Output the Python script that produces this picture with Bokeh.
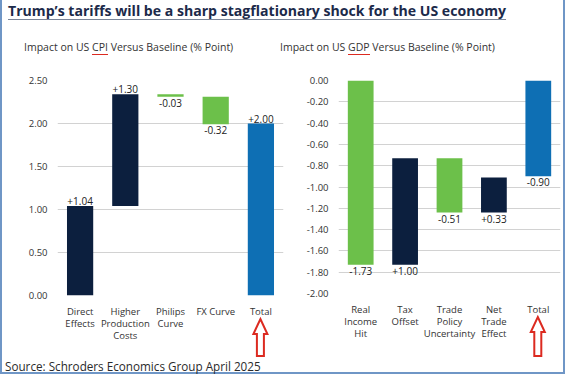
from bokeh.plotting import figure
from bokeh.models import (Range1d, FactorRange, ColumnDataSource, NumeralTickFormatter,
                          FixedTicker, Div)
from bokeh.layouts import column, row
from bokeh.embed import file_html
from bokeh.resources import INLINE
from bokeh.core.properties import value

# ---------------- data ----------------
TITLE = "Trump’s tariffs will be a sharp stagflationary shock for the US economy"
SOURCE = "Source: Schroders Economics Group April 2025"

cpi_categories = ["Direct\nEffects", "Higher\nProduction\nCosts", "Philips\nCurve", "FX Curve", "Total"]
cpi_changes = [1.04, 1.30, -0.03, -0.32]
cpi_total = 2.00
cpi_ticks = [0.0, 0.5, 1.0, 1.5, 2.0, 2.5]

gdp_categories = ["Real\nIncome\nHit", "Tax\nOffset", "Trade\nPolicy\nUncertainty", "Net\nTrade\nEffect", "Total"]
gdp_changes = [-1.73, 1.00, -0.51, 0.33]
gdp_total = -0.90
gdp_ticks = [0.0, -0.2, -0.4, -0.6, -0.8, -1.0, -1.2, -1.4, -1.6, -1.8, -2.0]

# ---------------- style ----------------
FONT = "Open Sans"
NAVY = "#0c1f3e"
GREEN = "#6cc04a"
BLUE = "#0e6fb4"
RED = "#dc2a20"
TXT = "#333333"

# frame geometry (px)
L_BL, L_FW, L_FH, L_BT, L_BR = 57, 226, 215, 26, 7
R_BL, R_FW, R_FH, R_BT, R_BR = 48, 222, 213, 28, 5


def waterfall(cats, changes, total, mode):
    bottoms, tops, colors, labels, ly, base = [], [], [], [], [], []
    level = 0.0
    for c in changes:
        start, end = level, level + c
        lo, hi = min(start, end), max(start, end)
        bottoms.append(lo)
        tops.append(hi)
        colors.append(NAVY if c > 0 else GREEN)
        labels.append(f"{c:+.2f}")
        if mode == "sign" and c > 0:
            ly.append(hi); base.append("bottom")
        else:
            ly.append(lo); base.append("top")
        level = end
    lo, hi = min(0.0, total), max(0.0, total)
    bottoms.append(lo)
    tops.append(hi)
    colors.append(BLUE)
    labels.append(f"{total:+.2f}")
    if mode == "sign" and total > 0:
        ly.append(hi); base.append("bottom")
    else:
        ly.append(lo); base.append("top")
    return ColumnDataSource(dict(x=cats, bottom=bottoms, top=tops, color=colors,
                                 label=labels, ly=ly, base=base,
                                 yoff=[-1 if b == "bottom" else 2 for b in base]))


def make_chart(cats, changes, total, yr, ticks, fw, fh, bl, bt, br, mode):
    src = waterfall(cats, changes, total, mode)
    p = figure(x_range=FactorRange(factors=cats), y_range=Range1d(*yr),
               frame_width=fw, frame_height=fh,
               min_border_left=bl, min_border_right=br, min_border_top=bt,
               min_border_bottom=63 + (28 - bt),
               output_backend="svg", toolbar_location=None, tools="")
    p.outline_line_color = None
    p.background_fill_color = None
    p.border_fill_color = None

    p.vbar(x="x", bottom="bottom", top="top", width=0.58, fill_color="color",
           line_color=None, source=src)
    p.text(x="x", y="ly", text="label", text_align="center", text_baseline="base",
           y_offset="yoff", text_font=value(FONT), text_font_size="10px",
           text_color="#222222", source=src)

    p.xgrid.visible = False
    p.ygrid.ticker = FixedTicker(ticks=ticks)
    p.ygrid.grid_line_color = "#d2d2d2"
    p.ygrid.grid_line_width = 1

    xa = p.xaxis[0]
    xa.axis_line_color = None
    xa.major_tick_line_color = None
    xa.major_tick_out = 0
    xa.major_label_standoff = 9
    xa.major_label_text_font = FONT
    xa.major_label_text_font_size = "9.5px"
    xa.major_label_text_color = TXT
    xa.major_label_text_line_height = 0.95

    ya = p.yaxis[0]
    ya.ticker = FixedTicker(ticks=ticks)
    ya.formatter = NumeralTickFormatter(format="0.00")
    ya.axis_line_color = None
    ya.major_tick_line_color = None
    ya.minor_tick_line_color = None
    ya.major_tick_out = 0
    ya.major_label_standoff = 10
    ya.major_label_text_font = FONT
    ya.major_label_text_font_size = "9.5px"
    ya.major_label_text_color = TXT
    return p


p1 = make_chart(cpi_categories, cpi_changes, cpi_total, (0.0, 2.5), cpi_ticks,
                L_FW, L_FH, L_BL, L_BT, L_BR, "sign")
p2 = make_chart(gdp_categories, gdp_changes, gdp_total, (-2.0, 0.0), gdp_ticks,
                R_FW, R_FH, R_BL, R_BT, R_BR, "below")

P1_W = L_BL + L_FW + L_BR
# centre of the "Total" category in each chart (page px)
left_total_x = L_BL + L_FW * (cpi_categories.index("Total") + 0.5) / len(cpi_categories)
right_total_x = P1_W + R_BL + R_FW * (gdp_categories.index("Total") + 0.5) / len(gdp_categories)


def hollow_arrow(cx, tip):
    head_w, shaft_w, head_h, bottom = 7, 3.5, 15, 43
    pts = [(cx, tip), (cx + head_w, tip + head_h), (cx + shaft_w, tip + head_h),
           (cx + shaft_w, bottom), (cx - shaft_w, bottom), (cx - shaft_w, tip + head_h),
           (cx - head_w, tip + head_h)]
    s = " ".join(f"{x:.1f},{y:.1f}" for x, y in pts)
    return f'<polygon points="{s}" fill="white" stroke="{RED}" stroke-width="2"/>'


arrow_svg = (f'<svg style="position:absolute;left:0;top:-45px;overflow:visible" width="565" '
             f'height="45">{hollow_arrow(left_total_x, 6)}{hollow_arrow(right_total_x, 4)}</svg>')

title = Div(text=f'<div style="font-family:\'Open Sans\';font-weight:700;font-size:14.1px;'
                 f'line-height:18px;color:#1c2a4a;white-space:nowrap;text-decoration:underline;'
                 f'text-decoration-color:#7a8598;text-underline-offset:3px;'
                 f'padding-left:8px;padding-top:2px;">{TITLE}</div>',
            width=565, height=30, margin=0)

sub_style = ("font-family:'Open Sans';font-size:10.5px;line-height:12px;color:#333;"
             "white-space:nowrap;padding-top:11px;")
red_u = f"border-bottom:1.5px solid {RED};padding-bottom:0px;"
sub1 = Div(text=f'<div style="{sub_style}padding-left:24px;">Impact on US '
                f'<span style="{red_u}">CPI</span> Versus Baseline (% Point)</div>',
           width=280, height=22, margin=0)
sub2 = Div(text=f'<div style="{sub_style}">Impact on US '
                f'<span style="{red_u}">GDP</span> Versus Baseline (% Point)</div>',
           width=285, height=22, margin=0)

source = Div(text=f'<div style="position:relative;font-family:\'Open Sans\';font-size:11.7px;'
                  f'line-height:17px;color:#2a2a2a;white-space:nowrap;padding-left:5px;">'
                  f'{arrow_svg}{SOURCE}</div>',
             width=565, height=17, margin=0)

BORDER = "#6f96c6"
layout = column(title, row(sub1, sub2), row(p1, p2), source, width=565, height=374,
                styles={"box-shadow": f"inset 2px 0 0 0 {BORDER}, inset -2px 0 0 0 {BORDER}, "
                                      f"inset 0 -2px 0 0 {BORDER}"})

open("out.html", "w").write(file_html(layout, INLINE))
